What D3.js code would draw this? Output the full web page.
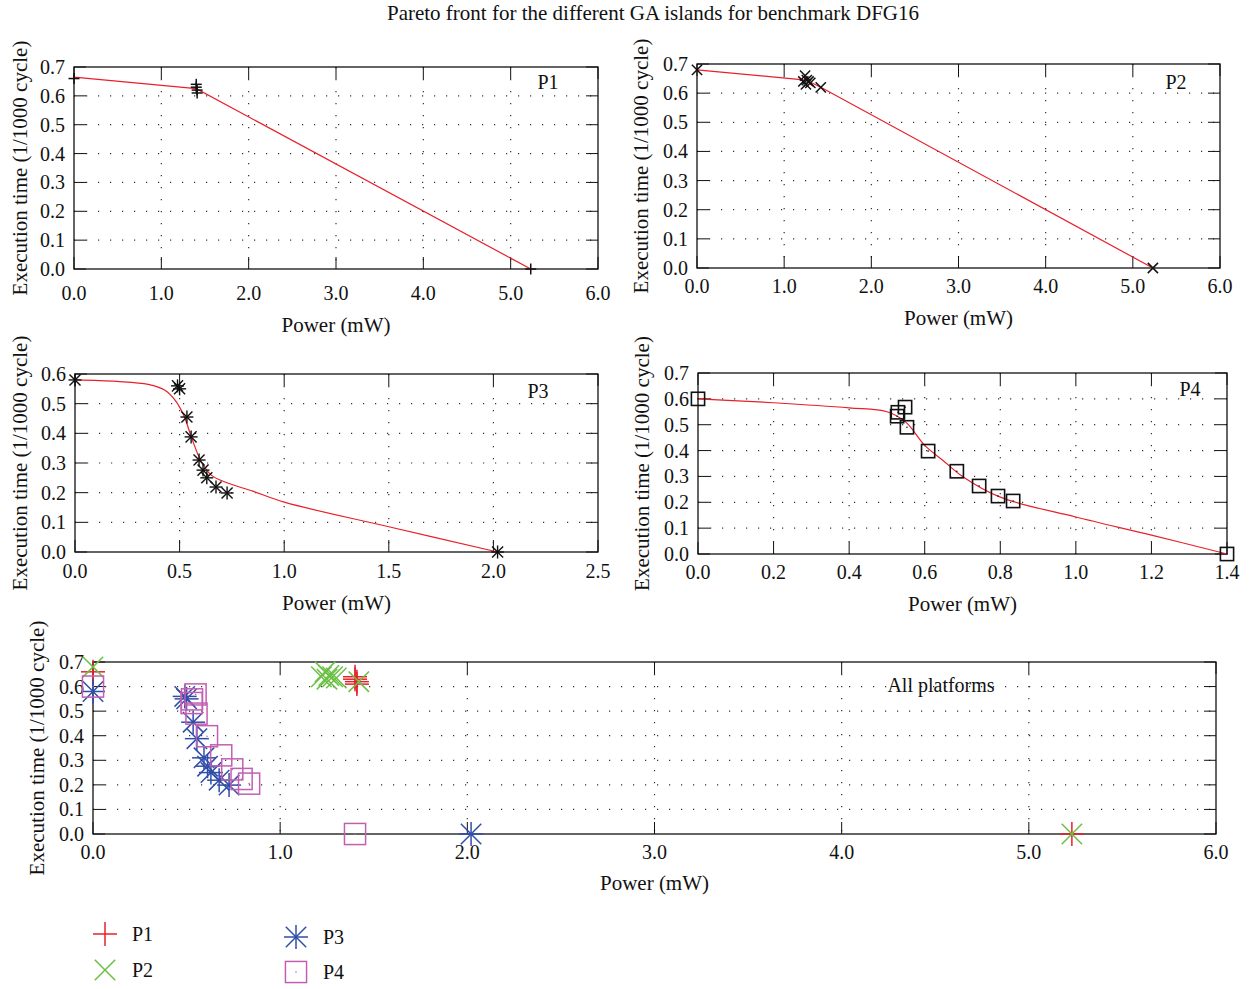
<!DOCTYPE html>
<html>
<head>
<meta charset="utf-8">
<script src="https://cdn.jsdelivr.net/npm/d3@7"></script>
<style>
  body { margin: 0; background: #fff; }
  text { font-family: "Liberation Serif", "DejaVu Serif", serif; fill: #111; }
  .tick-label { font-size: 20px; }
  .axis-label { font-size: 21px; }
</style>
</head>
<body>
<div id="chart"></div>
<script>
const width = 1249, height = 989;

// data
const p1Power = [0, 1.40, 1.40, 1.41, 1.41, 5.23];
const p1Time  = [0.66, 0.64, 0.63, 0.62, 0.61, 0.0];
const p1FitPower = [0, 1.40, 5.23];
const p1FitTime  = [0.665, 0.625, 0.0];

const p2Power = [0, 1.24, 1.22, 1.26, 1.28, 1.25, 1.30, 1.42, 5.23];
const p2Time  = [0.68, 0.66, 0.64, 0.645, 0.64, 0.63, 0.635, 0.62, 0.0];
const p2FitPower = [0, 1.25, 1.42, 5.23];
const p2FitTime  = [0.68, 0.645, 0.62, 0.0];

const p3Power = [0, 0.49, 0.50, 0.535, 0.555, 0.593, 0.612, 0.63, 0.674, 0.727, 2.02];
const p3Time  = [0.58, 0.56, 0.55, 0.455, 0.388, 0.31, 0.276, 0.25, 0.219, 0.199, 0.0];
const p3FitPower = [0, 0.2, 0.35, 0.43, 0.48, 0.52, 0.56, 0.60, 0.65, 0.72, 0.85, 1.0, 1.5, 2.02];
const p3FitTime  = [0.58, 0.575, 0.565, 0.545, 0.51, 0.46, 0.38, 0.31, 0.26, 0.235, 0.205, 0.168, 0.085, 0.0];

const p4Power = [0, 0.529, 0.527, 0.548, 0.553, 0.609, 0.685, 0.744, 0.794, 0.834, 1.40];
const p4Time  = [0.60, 0.548, 0.533, 0.568, 0.49, 0.398, 0.32, 0.263, 0.224, 0.205, 0.0];
const p4FitPower = [0, 0.2, 0.4, 0.5, 0.55, 0.6, 0.65, 0.7, 0.8, 1.0, 1.2, 1.4];
const p4FitTime  = [0.60, 0.585, 0.565, 0.55, 0.51, 0.42, 0.36, 0.30, 0.22, 0.143, 0.073, 0.0];

const ticks6 = [0, 1, 2, 3, 4, 5, 6];
const ticks25 = [0, 0.5, 1.0, 1.5, 2.0, 2.5];
const ticks14 = [0, 0.2, 0.4, 0.6, 0.8, 1.0, 1.2, 1.4];
const timeTicks7 = [0, 0.1, 0.2, 0.3, 0.4, 0.5, 0.6, 0.7];
const timeTicks6 = [0, 0.1, 0.2, 0.3, 0.4, 0.5, 0.6];

const seriesNames = ["P1", "P2", "P3", "P4"];
const seriesColors = ["#e8202a", "#6cbf45", "#2f4ea8", "#c35fb3"];
const seriesShapes = ["plus", "cross", "star", "square"];

const zip = (xs, ys) => xs.map((x, i) => ({x, y: ys[i]}));

const svg = d3.select("#chart").append("svg")
    .attr("width", width).attr("height", height)
    .attr("viewBox", `0 0 ${width} ${height}`);

svg.append("text")
    .text("Pareto front for the different GA islands for benchmark DFG16")
    .attr("x", 653).attr("y", 20)
    .attr("text-anchor", "middle")
    .style("font-size", "21px");

// draw one marker of a given shape
const drawMarker = (g, shape, cx, cy, r, color, sw) => {
    const m = g.append("g").attr("transform", `translate(${cx},${cy})`)
        .attr("stroke", color).attr("stroke-width", sw).attr("fill", "none");
    const plus = () => {
        m.append("line").attr("x1", -r).attr("x2", r);
        m.append("line").attr("y1", -r).attr("y2", r);
    };
    const cross = () => {
        const k = r * 0.85;
        m.append("line").attr("x1", -k).attr("y1", -k).attr("x2", k).attr("y2", k);
        m.append("line").attr("x1", -k).attr("y1", k).attr("x2", k).attr("y2", -k);
    };
    if (shape === "plus") plus();
    if (shape === "cross") cross();
    if (shape === "star") {
        plus(); cross();
        m.append("circle").attr("r", sw * 0.9).attr("fill", color).attr("stroke", "none");
    }
    if (shape === "square") {
        const k = r * 0.88;
        m.append("rect").attr("x", -k).attr("y", -k).attr("width", 2 * k).attr("height", 2 * k);
        m.append("circle").attr("r", 0.8).attr("fill", color).attr("stroke", "none");
    }
};

const drawPanel = (p) => {
    const x = d3.scaleLinear().domain(p.xDomain).range([p.left, p.right]);
    const y = d3.scaleLinear().domain(p.yDomain).range([p.bottom, p.top]);
    const g = svg.append("g");

    // dotted grid
    p.xTicks.slice(1, -1).forEach(t => {
        g.append("line").attr("x1", x(t)).attr("x2", x(t))
            .attr("y1", p.top).attr("y2", p.bottom)
            .attr("stroke", "#333").attr("stroke-width", 1.2)
            .attr("stroke-dasharray", "1.2,10.8");
    });
    p.yTicks.slice(1, -1).forEach(t => {
        g.append("line").attr("x1", p.left).attr("x2", p.right)
            .attr("y1", y(t)).attr("y2", y(t))
            .attr("stroke", "#333").attr("stroke-width", 1.2)
            .attr("stroke-dasharray", "1.2,10.8");
    });

    // inward ticks, mirrored
    const tl = 12;
    p.xTicks.forEach(t => {
        g.append("line").attr("x1", x(t)).attr("x2", x(t))
            .attr("y1", p.bottom).attr("y2", p.bottom - tl).attr("stroke", "#111");
        g.append("line").attr("x1", x(t)).attr("x2", x(t))
            .attr("y1", p.top).attr("y2", p.top + tl).attr("stroke", "#111");
        g.append("text").attr("class", "tick-label")
            .text(d3.format(".1f")(t))
            .attr("x", x(t)).attr("y", p.bottom + p.tickDy)
            .attr("text-anchor", "middle");
    });
    p.yTicks.forEach(t => {
        g.append("line").attr("x1", p.left).attr("x2", p.left + tl)
            .attr("y1", y(t)).attr("y2", y(t)).attr("stroke", "#111");
        g.append("line").attr("x1", p.right).attr("x2", p.right - tl)
            .attr("y1", y(t)).attr("y2", y(t)).attr("stroke", "#111");
        g.append("text").attr("class", "tick-label")
            .text(d3.format(".1f")(t))
            .attr("x", p.left - 9).attr("y", y(t) + 7)
            .attr("text-anchor", "end");
    });

    g.append("rect")
        .attr("x", p.left).attr("y", p.top)
        .attr("width", p.right - p.left).attr("height", p.bottom - p.top)
        .attr("fill", "none").attr("stroke", "#111").attr("stroke-width", 1.3);

    // fitted curve
    if (p.fit) {
        const line = d3.line().x(d => x(d.x)).y(d => y(d.y)).curve(p.curve);
        g.append("path").datum(p.fit)
            .attr("fill", "none").attr("stroke", "#e8202a").attr("stroke-width", 1.2)
            .attr("d", line);
    }

    p.series.forEach(s => {
        s.points.forEach(d => drawMarker(g, s.shape, x(d.x), y(d.y), p.markerR, s.color, p.markerW));
    });

    g.append("text").text(p.label)
        .attr("x", p.labelX).attr("y", p.labelY)
        .attr("text-anchor", "middle").style("font-size", "20px");

    g.append("text").attr("class", "axis-label").text("Power (mW)")
        .attr("x", (p.left + p.right) / 2).attr("y", p.bottom + p.labelDy)
        .attr("text-anchor", "middle");

    g.append("text").attr("class", "axis-label").text("Execution time (1/1000 cycle)")
        .attr("transform", `translate(${p.yLabelX},${(p.top + p.bottom) / 2}) rotate(-90)`)
        .attr("text-anchor", "middle");
};

const panels = [
    {left: 74, right: 598, top: 67, bottom: 269, xDomain: [0, 6], yDomain: [0, 0.7],
     xTicks: ticks6, yTicks: timeTicks7, label: "P1", labelX: 548, labelY: 89, yLabelX: 27,
     tickDy: 31, labelDy: 63, curve: d3.curveLinear,
     fit: zip(p1FitPower, p1FitTime), markerR: 5.5, markerW: 1.5,
     series: [{shape: "plus", color: "#111", points: zip(p1Power, p1Time)}]},
    {left: 697, right: 1220, top: 64, bottom: 268, xDomain: [0, 6], yDomain: [0, 0.7],
     xTicks: ticks6, yTicks: timeTicks7, label: "P2", labelX: 1176, labelY: 89, yLabelX: 648,
     tickDy: 25, labelDy: 57, curve: d3.curveLinear,
     fit: zip(p2FitPower, p2FitTime), markerR: 6, markerW: 1.5,
     series: [{shape: "cross", color: "#111", points: zip(p2Power, p2Time)}]},
    {left: 75, right: 598, top: 374, bottom: 552, xDomain: [0, 2.5], yDomain: [0, 0.6],
     xTicks: ticks25, yTicks: timeTicks6, label: "P3", labelX: 538, labelY: 398, yLabelX: 27,
     tickDy: 26, labelDy: 58, curve: d3.curveCatmullRom,
     fit: zip(p3FitPower, p3FitTime), markerR: 6.5, markerW: 1.4,
     series: [{shape: "star", color: "#111", points: zip(p3Power, p3Time)}]},
    {left: 698, right: 1227, top: 373, bottom: 554, xDomain: [0, 1.4], yDomain: [0, 0.7],
     xTicks: ticks14, yTicks: timeTicks7, label: "P4", labelX: 1190, labelY: 396, yLabelX: 649,
     tickDy: 25, labelDy: 57, curve: d3.curveCatmullRom,
     fit: zip(p4FitPower, p4FitTime), markerR: 7.5, markerW: 1.6,
     series: [{shape: "square", color: "#111", points: zip(p4Power, p4Time)}]},
    {left: 93, right: 1216, top: 662, bottom: 834, xDomain: [0, 6], yDomain: [0, 0.7],
     xTicks: ticks6, yTicks: timeTicks7, label: "All platforms", labelX: 941, labelY: 692, yLabelX: 44,
     tickDy: 25, labelDy: 56, curve: null,
     fit: null, markerR: 12, markerW: 1.5,
     series: [
        {shape: "plus", color: seriesColors[0], points: zip(p1Power, p1Time)},
        {shape: "cross", color: seriesColors[1], points: zip(p2Power, p2Time)},
        {shape: "star", color: seriesColors[2], points: zip(p3Power, p3Time)},
        {shape: "square", color: seriesColors[3], points: zip(p4Power, p4Time)}
     ]}
];

panels.forEach(drawPanel);

// legend
const legendPos = [[105, 934], [105, 970], [296, 937], [296, 972]];
seriesNames.forEach((name, i) => {
    const [lx, ly] = legendPos[i];
    drawMarker(svg, seriesShapes[i], lx, ly, 12, seriesColors[i], 1.5);
    svg.append("text").text(name)
        .attr("x", lx + 27).attr("y", ly + 7)
        .style("font-size", "20px");
});
</script>
</body>
</html>
